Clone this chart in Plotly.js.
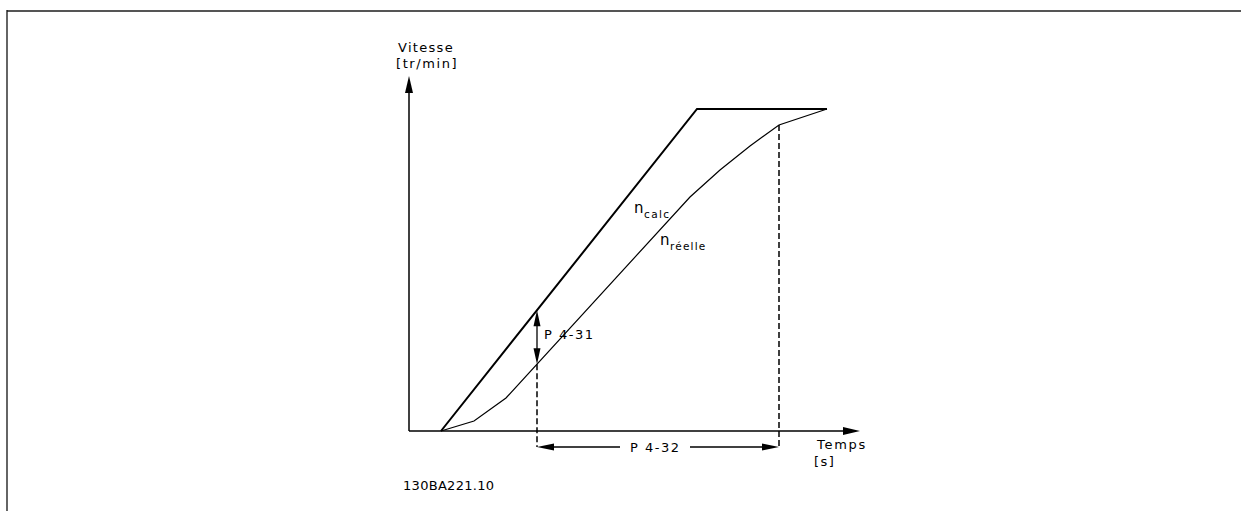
<!DOCTYPE html>
<html><head><meta charset="utf-8">
<script src="https://cdn.plot.ly/plotly-3.0.1.min.js"></script>
<style>html,body{margin:0;padding:0;background:#fff}#chart{width:1241px;height:511px}</style>
</head><body><div id="chart"></div>
<script>
// Data (time / speed in drawing units; origin = axes crossing)
const timeCalc = [32, 288, 418];
const speedCalc = [0, 322, 322];
const timeReel = [32, 65, 97, 281, 311, 341, 370, 418];
const speedReel = [0, 10, 33, 234, 261, 285, 306, 322];
const p431Time = 128;      // instant where P 4-31 is measured
const p432End = 370;       // end of P 4-32 interval
const xAxisEnd = 451;
const yAxisEnd = 355;
const p432Level = -16;
const p432Gap = [211, 281]; // gap in the dimension line for its label
const axisLabelsY = ['Vitesse', '[tr/min]'];
const axisLabelsX = ['Temps', '[s]'];
const paramLabels = ['P 4-31', 'P 4-32'];
const curveSymbol = 'n';
const curveSubs = ['calc', 'réelle'];
const figCode = '130BA221.10';

function interp(xs, ys, x) {
  for (let i = 0; i < xs.length - 1; i++) {
    if (x >= xs[i] && x <= xs[i + 1]) {
      return ys[i] + (ys[i + 1] - ys[i]) * (x - xs[i]) / (xs[i + 1] - xs[i]);
    }
  }
  return ys[ys.length - 1];
}
const calcAt = interp(timeCalc, speedCalc, p431Time);
const reelAt = interp(timeReel, speedReel, p431Time);
const reelEnd = interp(timeReel, speedReel, p432End);

function head(tx, ty, dir, len, hw) {
  let p;
  if (dir === 'up') p = [[tx, ty], [tx - hw, ty - len], [tx + hw, ty - len]];
  else if (dir === 'down') p = [[tx, ty], [tx - hw, ty + len], [tx + hw, ty + len]];
  else if (dir === 'right') p = [[tx, ty], [tx - len, ty + hw], [tx - len, ty - hw]];
  else p = [[tx, ty], [tx + len, ty + hw], [tx + len, ty - hw]];
  return {type: 'path', xref: 'x', yref: 'y', path: 'M' + p.map(q => q[0] + ',' + q[1]).join('L') + 'Z',
          fillcolor: '#000', line: {width: 0}};
}

const sp = (t, s) => '<span style="letter-spacing:' + s + 'px">' + t + '</span>';
const font = {family: 'DejaVu Sans, Verdana, sans-serif', size: 13, color: '#000'};

const traces = [
  {x: [0, 0], y: [0, yAxisEnd - 10], mode: 'lines', line: {color: '#000', width: 1.5}, hoverinfo: 'skip'},
  {x: [0, xAxisEnd - 10], y: [0, 0], mode: 'lines', line: {color: '#000', width: 1.5}, hoverinfo: 'skip'},
  {x: timeCalc, y: speedCalc, mode: 'lines', line: {color: '#000', width: 2}, hoverinfo: 'skip'},
  {x: timeReel, y: speedReel, mode: 'lines', line: {color: '#000', width: 1.2}, hoverinfo: 'skip'},
  {x: [p431Time, p431Time], y: [reelAt, p432Level], mode: 'lines', line: {color: '#000', width: 1.5, dash: '6px,3px'}, hoverinfo: 'skip'},
  {x: [p432End, p432End], y: [reelEnd, p432Level], mode: 'lines', line: {color: '#000', width: 1.5, dash: '6px,3px'}, hoverinfo: 'skip'},
  {x: [p431Time, p431Time], y: [calcAt - 5, reelAt + 5], mode: 'lines', line: {color: '#000', width: 1.3}, hoverinfo: 'skip'},
  {x: [p431Time + 5, p432Gap[0]], y: [p432Level, p432Level], mode: 'lines', line: {color: '#000', width: 1.3}, hoverinfo: 'skip'},
  {x: [p432Gap[1], p432End - 5], y: [p432Level, p432Level], mode: 'lines', line: {color: '#000', width: 1.3}, hoverinfo: 'skip'}
];

const shapes = [
  head(0, yAxisEnd, 'up', 17, 4),
  head(xAxisEnd, 0, 'right', 17, 4),
  head(p431Time, calcAt, 'up', 16, 3.5),
  head(p431Time, reelAt, 'down', 16, 3.5),
  head(p431Time, p432Level, 'left', 17, 3.5),
  head(p432End, p432Level, 'right', 17, 3.5),
  {type: 'line', xref: 'x', yref: 'y', x0: -402, x1: 832, y0: 420, y1: 420, line: {color: '#555', width: 2}},
  {type: 'line', xref: 'x', yref: 'y', x0: -402, x1: -402, y0: 421, y1: -80, line: {color: '#111', width: 1.3}}
];

const ann = (text, x, y, extra) => Object.assign({text: text, x: x, y: y, xref: 'x', yref: 'y', showarrow: false,
  xanchor: 'left', yanchor: 'middle', font: font}, extra || {});
const big = {font: Object.assign({}, font, {size: 15})};
const small = {font: Object.assign({}, font, {size: 10.5})};

const annotations = [
  ann(sp(axisLabelsY[0], 1.3), -13, 384),
  ann(sp(axisLabelsY[1], 1.6), -15, 368),
  ann(sp(axisLabelsX[0], 1.7), 405, -13),
  ann(sp(axisLabelsX[1], 1.5), 403, -30),
  ann(sp(paramLabels[0], 1.5), 133, 97),
  ann(sp(paramLabels[1], 1.5), (p432Gap[0] + p432Gap[1]) / 2, p432Level, {xanchor: 'center'}),
  ann(curveSymbol, 223, 223, big),
  ann(sp(curveSubs[0], 1.4), 233, 217, small),
  ann(curveSymbol, 249, 191, big),
  ann(sp(curveSubs[1], 1.2), 259, 185, small),
  ann(sp(figCode, 0.3), -8, -54)
];

const layout = {
  width: 1241, height: 511,
  margin: {l: 0, r: 0, t: 0, b: 0},
  paper_bgcolor: '#fff', plot_bgcolor: '#fff',
  showlegend: false,
  xaxis: {range: [-409, 832], visible: false, fixedrange: true},
  yaxis: {range: [-80, 431], visible: false, fixedrange: true},
  shapes: shapes,
  annotations: annotations
};
Plotly.newPlot('chart', traces, layout, {displayModeBar: false, staticPlot: true});
</script>
</body></html>
